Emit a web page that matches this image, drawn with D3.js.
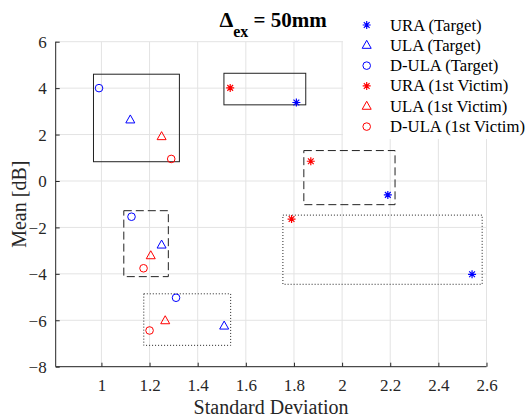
<!DOCTYPE html>
<html><head><meta charset="utf-8">
<script src="https://cdn.jsdelivr.net/npm/d3@7"></script>
<style>body{margin:0;background:#fff}svg{display:block}</style>
</head><body>
<svg id="c" width="528" height="418"></svg>
<script>
// ---- data ----
const xTicks = [1, 1.2, 1.4, 1.6, 1.8, 2, 2.2, 2.4, 2.6];
const yTicks = [-8, -6, -4, -2, 0, 2, 4, 6];
const seriesNames = ["URA (Target)", "ULA (Target)", "D-ULA (Target)", "URA (1st Victim)", "ULA (1st Victim)", "D-ULA (1st Victim)"];
const seriesShapes = ["star", "tri", "circ", "star", "tri", "circ"];
const seriesColors = ["#0000ff", "#0000ff", "#0000ff", "#ff0000", "#ff0000", "#ff0000"];
const uraTargetSD = [1.81, 2.19, 2.54];
const uraTargetMean = [3.38, -0.60, -4.02];
const ulaTargetSD = [1.12, 1.25, 1.51];
const ulaTargetMean = [2.63, -2.76, -6.25];
const dulaTargetSD = [0.99, 1.125, 1.31];
const dulaTargetMean = [4.0, -1.54, -5.03];
const uraVictimSD = [1.535, 1.87, 1.79];
const uraVictimMean = [4.01, 0.85, -1.64];
const ulaVictimSD = [1.25, 1.205, 1.265];
const ulaVictimMean = [1.91, -3.22, -6.02];
const dulaVictimSD = [1.29, 1.175, 1.20];
const dulaVictimMean = [0.95, -3.76, -6.44];
// group boxes: [x0, x1, y0, y1]
const solidBoxes = [[0.967, 1.324, 0.83, 4.6], [1.509, 1.849, 3.28, 4.64]];
const dashedBoxes = [[1.093, 1.278, -4.12, -1.28], [1.841, 2.22, -1.02, 1.31]];
const dottedBoxes = [[1.176, 1.537, -7.08, -4.86], [1.754, 2.582, -4.45, -1.47]];

const seriesSD = [uraTargetSD, ulaTargetSD, dulaTargetSD, uraVictimSD, ulaVictimSD, dulaVictimSD];
const seriesMean = [uraTargetMean, ulaTargetMean, dulaTargetMean, uraVictimMean, ulaVictimMean, dulaVictimMean];

// ---- layout ----
const svg = d3.select("#c");
const L = 55.7, R = 486.5, T = 41.7, B = 366.7;
const x = d3.scaleLinear().domain([0.81, 2.6]).range([L, R]);
const y = d3.scaleLinear().domain([-8, 6]).range([B, T]);
const axisColor = "#262626";
const font = "'Liberation Serif','Times New Roman',serif";

// grid
const g = svg.append("g");
g.selectAll(".vg").data(xTicks).join("line")
  .attr("x1", d => x(d)).attr("x2", d => x(d)).attr("y1", T).attr("y2", B)
  .attr("stroke", "#e3e3e3").attr("stroke-width", 1);
g.selectAll(".hg").data(yTicks).join("line")
  .attr("x1", L).attr("x2", R).attr("y1", d => y(d)).attr("y2", d => y(d))
  .attr("stroke", "#e3e3e3").attr("stroke-width", 1);

// boxes
function drawBoxes(arr, dash) {
  svg.append("g").selectAll("rect").data(arr).join("rect")
    .attr("x", d => x(d[0])).attr("y", d => y(d[3]))
    .attr("width", d => x(d[1]) - x(d[0])).attr("height", d => y(d[2]) - y(d[3]))
    .attr("fill", "none").attr("stroke", "#222").attr("stroke-width", 1)
    .attr("stroke-dasharray", dash);
}
drawBoxes(solidBoxes, null);
drawBoxes(dashedBoxes, "8,4");
drawBoxes(dottedBoxes, "1,2");

// markers
function marker(sel, shape, color) {
  if (shape === "star") {
    const r = 4;
    sel.append("path").attr("d",
      `M${-r},0L${r},0M0,${-r}L0,${r}M${-r*0.72},${-r*0.72}L${r*0.72},${r*0.72}M${-r*0.72},${r*0.72}L${r*0.72},${-r*0.72}`)
      .attr("stroke", color).attr("stroke-width", 1.2).attr("fill", "none");
  } else if (shape === "tri") {
    sel.append("path").attr("d", "M0,-5L4.5,3L-4.5,3Z")
      .attr("stroke", color).attr("stroke-width", 1).attr("fill", "none");
  } else {
    sel.append("circle").attr("r", 3.8)
      .attr("stroke", color).attr("stroke-width", 1).attr("fill", "none");
  }
}
seriesSD.forEach((sd, i) => {
  const pts = sd.map((v, j) => [v, seriesMean[i][j]]);
  svg.append("g").selectAll("g").data(pts).join("g")
    .attr("transform", d => `translate(${x(d[0])},${y(d[1])})`)
    .each(function() { marker(d3.select(this), seriesShapes[i], seriesColors[i]); });
});

// axes
const xAxis = svg.append("g").attr("transform", `translate(0,${B})`)
  .call(d3.axisBottom(x).tickValues(xTicks).tickSize(-4).tickPadding(12).tickFormat(d3.format("~g")));
const yAxis = svg.append("g").attr("transform", `translate(${L},0)`)
  .call(d3.axisLeft(y).tickValues(yTicks).tickSize(-4).tickPadding(9).tickFormat(d3.format("~g")));
[xAxis, yAxis].forEach(a => {
  a.attr("font-family", font).attr("font-size", 17);
  a.select(".domain").attr("stroke", axisColor).attr("d", null);
  a.selectAll(".tick line").attr("stroke", axisColor);
  a.selectAll(".tick text").attr("fill", axisColor).attr("font-family", font).attr("font-size", 17);
});
svg.append("line").attr("x1", L).attr("x2", R).attr("y1", B).attr("y2", B).attr("stroke", axisColor);
svg.append("line").attr("x1", L).attr("x2", L).attr("y1", T).attr("y2", B).attr("stroke", axisColor);
yAxis.selectAll(".tick text").attr("text-anchor", "end").attr("dy", "0.34em");

// axis labels
svg.append("text").attr("x", (L + R) / 2).attr("y", 414).attr("text-anchor", "middle")
  .attr("font-family", font).attr("font-size", 20).attr("fill", axisColor).text("Standard Deviation");
svg.append("text").attr("transform", `translate(26,${(T + B) / 2}) rotate(-90)`).attr("text-anchor", "middle")
  .attr("font-family", font).attr("font-size", 20).attr("fill", axisColor).text("Mean [dB]");

// title
const title = svg.append("text").attr("x", (L + R) / 2 + 2).attr("y", 26.7).attr("text-anchor", "middle")
  .attr("font-family", font).attr("font-weight", "bold").attr("font-size", 21).attr("fill", "#000");
title.append("tspan").attr("font-size", 22).text("Δ");
title.append("tspan").attr("dy", 10).attr("font-size", 16).text("ex");
title.append("tspan").attr("dy", -10).text(" = 50mm");

// legend
const leg = svg.append("g");
leg.append("rect").attr("x", 343).attr("y", 8).attr("width", 185).attr("height", 131).attr("fill", "#fff");
const rowY = d3.scaleLinear().domain([0, 5]).range([25, 126.6]);
seriesNames.forEach((name, i) => {
  const r = leg.append("g").attr("transform", `translate(366.7,${rowY(i)})`);
  marker(r, seriesShapes[i], seriesColors[i]);
  leg.append("text").attr("x", 390).attr("y", rowY(i) + 5.5)
    .attr("font-family", font).attr("font-size", 16.7).attr("fill", "#000").text(name);
});
</script>
</body></html>
